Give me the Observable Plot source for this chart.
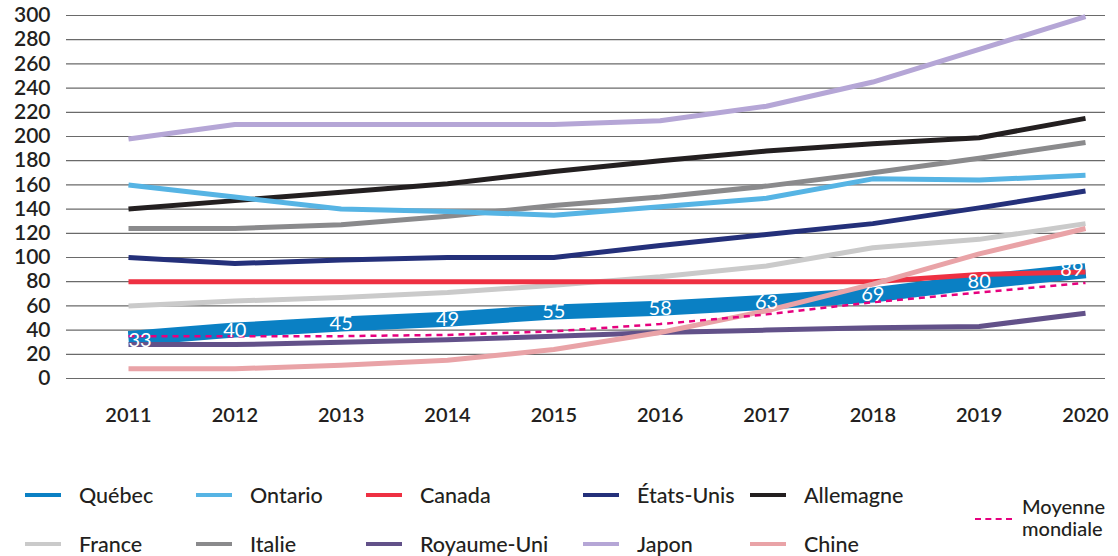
<!DOCTYPE html>
<html>
<head>
<meta charset="utf-8">
<script src="https://cdn.jsdelivr.net/npm/d3@7"></script>
<script src="https://cdn.jsdelivr.net/npm/@observablehq/plot@0.6"></script>
<style>
  html, body { margin: 0; padding: 0; background: #fff; }
  body { width: 1118px; height: 556px; position: relative; font-family: Lato, "Open Sans", sans-serif; color: #231f20; overflow: hidden; }
  #chart { position: absolute; left: 0; top: 0; }
  #legend { position: absolute; left: 0; top: 0; width: 1118px; height: 556px; pointer-events: none; }
  .item { position: absolute; display: flex; align-items: center; font-size: 21.5px; font-weight: 500; white-space: nowrap; }
  .sw { width: 36px; height: 4px; margin-right: 18px; }
  .txt { position: absolute; font-size: 20px; font-weight: 500; line-height: 19px; height: 19px; white-space: nowrap; }
  .dash { position: absolute; width: 37px; height: 0; border-top: 2.5px dashed #e6007e; }
</style>
</head>
<body>
<div id="chart"></div>
<div id="legend"></div>
<script>
const years = [2011, 2012, 2013, 2014, 2015, 2016, 2017, 2018, 2019, 2020];
const yTicks = [0, 20, 40, 60, 80, 100, 120, 140, 160, 180, 200, 220, 240, 260, 280, 300];

const quebec    = [33, 40, 45, 49, 55, 58, 63, 69, 80, 89];
const ontario   = [160, 150, 140, 138, 135, 142, 149, 165, 164, 168];
const canada    = [80, 80, 80, 80, 80, 80, 80, 80, 86, 88];
const etatsUnis = [100, 95, 98, 100, 100, 110, 119, 128, 141, 155];
const allemagne = [140, 147, 154, 161, 171, 180, 188, 194, 199, 215];
const france    = [60, 64, 67, 71, 77, 84, 93, 108, 115, 128];
const italie    = [124, 124, 127, 134, 143, 150, 159, 170, 182, 195];
const royaumeUni= [28, 28, 30, 32, 35, 38, 40, 42, 43, 54];
const japon     = [198, 210, 210, 210, 210, 213, 225, 245, 272, 299];
const chine     = [8, 8, 11, 15, 24, 38, 56, 78, 103, 124];
const moyenne   = [35, 35, 35, 36, 39, 45, 53, 63, 71, 79];

const seriesNames  = ["Japon", "Allemagne", "Italie", "Ontario", "États-Unis", "France", "Royaume-Uni", "Canada", "Chine"];
const seriesValues = [japon, allemagne, italie, ontario, etatsUnis, france, royaumeUni, canada, chine];
const seriesColors = ["#b5a6d6", "#231f20", "#8a8a8c", "#56b4e4", "#24307a", "#cacaca", "#625189", "#ee3042", "#e9a3a7"];

const rows = [];
seriesNames.forEach((n, i) => years.forEach((y, j) => rows.push({serie: n, year: y, value: seriesValues[i][j]})));
const qRows = years.map((y, j) => ({year: y, value: quebec[j], idx: j}));
const mRows = years.map((y, j) => ({year: y, value: moyenne[j]}));

const chart = Plot.plot({
  width: 1118,
  height: 445,
  marginLeft: 66,
  marginRight: 13,
  marginTop: 15,
  marginBottom: 67,
  style: {fontFamily: "Lato, 'Open Sans', sans-serif", background: "#fff"},
  x: {domain: [2010.417, 2020.188], axis: null},
  y: {domain: [0, 300], axis: null},
  color: {domain: seriesNames, range: seriesColors},
  marks: [
    Plot.ruleY(yTicks, {stroke: "#6a6a6a", strokeWidth: 1.2}),
    Plot.axisY(yTicks, {tickSize: 0, tickPadding: 16, fontSize: 21, fontWeight: 600, fill: "#231f20", label: null}),
    Plot.axisX(years, {tickSize: 0, tickPadding: 29, fontSize: 20, fontWeight: 600, fill: "#231f20", tickFormat: d => String(d), label: null}),
    Plot.line(qRows, {x: "year", y: "value", stroke: "#0a80c4", strokeWidth: 15, strokeLinecap: "butt", strokeLinejoin: "round"}),
    Plot.line(rows, {x: "year", y: "value", z: "serie", stroke: "serie", strokeWidth: 5, strokeLinecap: "butt", strokeLinejoin: "round"}),
    Plot.line(mRows, {x: "year", y: "value", stroke: "#e6007e", strokeWidth: 2.5, strokeDasharray: "6,5", strokeLinecap: "butt"}),
    Plot.text(qRows.filter(d => d.idx === 0), {x: "year", y: "value", text: d => String(d.value), fill: "#fff", fontSize: 20, textAnchor: "start", dx: 0, dy: 2}),
    Plot.text(qRows.filter(d => d.idx > 0 && d.idx < 9), {x: "year", y: "value", text: d => String(d.value), fill: "#fff", fontSize: 20, textAnchor: "middle"}),
    Plot.text(qRows.filter(d => d.idx === 9), {x: "year", y: "value", text: d => String(d.value), fill: "#fff", fontSize: 20, textAnchor: "end", dx: -2, dy: -1})
  ]
});
document.getElementById("chart").appendChild(chart);

const legendItems = [
  {name: "Québec", color: "#0a80c4", x: 25, y: 495},
  {name: "Ontario", color: "#56b4e4", x: 196, y: 495},
  {name: "Canada", color: "#ee3042", x: 366, y: 495},
  {name: "États-Unis", color: "#24307a", x: 583, y: 495},
  {name: "Allemagne", color: "#231f20", x: 750, y: 495},
  {name: "France", color: "#cacaca", x: 25, y: 544},
  {name: "Italie", color: "#8a8a8c", x: 196, y: 544},
  {name: "Royaume-Uni", color: "#625189", x: 366, y: 544},
  {name: "Japon", color: "#b5a6d6", x: 583, y: 544},
  {name: "Chine", color: "#e9a3a7", x: 750, y: 544}
];
const legend = document.getElementById("legend");
legendItems.forEach(it => {
  const d = document.createElement("div");
  d.className = "item";
  d.style.left = it.x + "px";
  d.style.top = (it.y - 13) + "px";
  d.style.height = "26px";
  d.innerHTML = `<span class="sw" style="background:${it.color}"></span><span>${it.name}</span>`;
  legend.appendChild(d);
});
const dash = document.createElement("div");
dash.className = "dash";
dash.style.left = "975px";
dash.style.top = "518px";
legend.appendChild(dash);
[["Moyenne", 497], ["mondiale", 519]].forEach(([t, y]) => {
  const s = document.createElement("div");
  s.className = "txt";
  s.style.left = "1022px";
  s.style.top = y + "px";
  s.textContent = t;
  legend.appendChild(s);
});
</script>
</body>
</html>
